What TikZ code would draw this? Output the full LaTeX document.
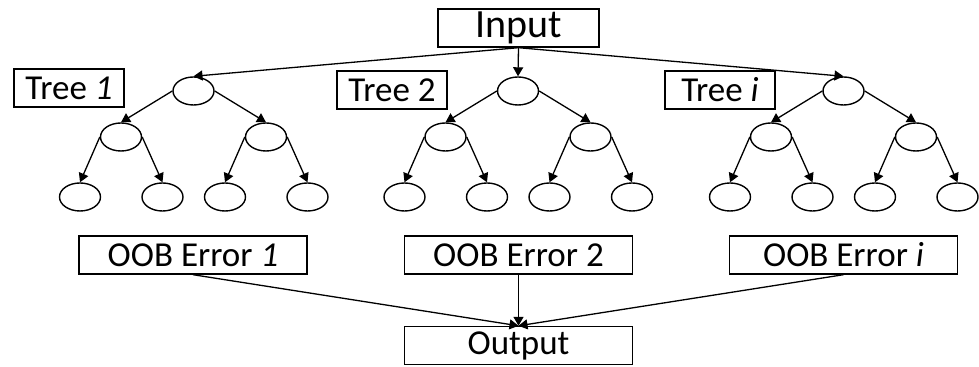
\documentclass[tikz,border=0pt]{standalone}
\usepackage{fontspec}
\setmainfont{Carlito}
\usetikzlibrary{shapes.geometric,arrows.meta}
\begin{document}
\begin{tikzpicture}[x=0.5pt,y=-0.5pt,
  every node/.style={font=\fontsize{17.5pt}{20pt}\selectfont},
  box/.style={draw,line width=0.7pt,inner sep=0pt,minimum height=19pt},
  bigbox/.style={box,minimum width=80.5pt,font=\fontsize{20pt}{22pt}\selectfont},
  treebox/.style={box,minimum width=55pt},
  oobbox/.style={box,minimum width=114pt},
  leaf/.style={draw,ellipse,line width=0.7pt,inner sep=0pt,minimum width=20.5pt,minimum height=14pt},
  conn/.style={line width=0.65pt,-{Triangle[length=4.5pt,width=5pt]}}]
\useasboundingbox (0,0) rectangle (979,367);
\node[bigbox] (in) at (518.5,28) {Input};
\node[treebox] (l1) at (69,88) {Tree \textit{1}};
\node[treebox] (l2) at (392,90) {Tree 2};
\node[treebox] (l3) at (720,90) {Tree \textit{i}};
\foreach \k/\cx in {1/193.5,2/518,3/843.5}{
  \node[leaf] (t\k r) at (\cx,91) {};
  \node[leaf] (t\k a) at (\cx-72.5,137) {};
  \node[leaf] (t\k b) at (\cx+72.5,137) {};
  \node[leaf] (t\k aa) at (\cx-113.5,197) {};
  \node[leaf] (t\k ab) at (\cx-31,197) {};
  \node[leaf] (t\k ba) at (\cx+31.5,197) {};
  \node[leaf] (t\k bb) at (\cx+114,197) {};
  \draw[conn] (in.south) -- (t\k r.north);
  \draw[conn] (t\k r.west) -- (t\k a.north);
  \draw[conn] (t\k r.east) -- (t\k b.north);
  \draw[conn] (t\k a.west) -- (t\k aa.north);
  \draw[conn] (t\k a.east) -- (t\k ab.north);
  \draw[conn] (t\k b.west) -- (t\k ba.north);
  \draw[conn] (t\k b.east) -- (t\k bb.north);
}
\node[oobbox] (o1) at (193,255) {OOB Error \textit{1}};
\node[oobbox] (o2) at (518.5,255) {OOB Error 2};
\node[oobbox] (o3) at (843.5,255) {OOB Error \textit{i}};
\node[oobbox] (out) at (518.5,345.5) {Output};
\draw[conn] (o1.south) -- (out.north);
\draw[conn] (o2.south) -- (out.north);
\draw[conn] (o3.south) -- (out.north);
\end{tikzpicture}
\end{document}
